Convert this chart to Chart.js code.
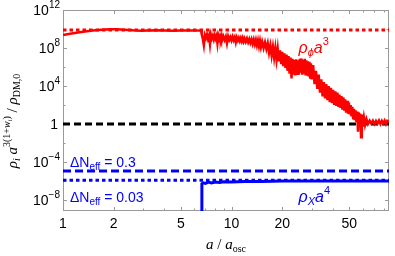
<!DOCTYPE html>
<html>
<head>
<meta charset="utf-8">
<script src="https://cdn.jsdelivr.net/npm/chart.js@4"></script>
<style>
html, body { margin: 0; padding: 0; background: #fff; }
#wrap { width: 395px; height: 256px; }
</style>
</head>
<body>
<div id="wrap"><canvas id="c"></canvas></div>
<script>
// a / a_osc and log10 of the rescaled density
const redA = [1.0, 1.1, 1.2, 1.35, 1.5, 1.7, 1.9, 2.1, 2.3, 2.6, 2.9, 3.2, 3.6, 4.0, 4.5, 5.0, 5.5, 6.0, 6.6,
  6.66, 6.75, 6.85, 6.95, 7.05, 7.15, 7.25, 7.35, 7.45, 7.55, 7.65, 7.75, 7.85, 7.95, 8.05, 8.15, 8.25, 8.35, 8.45, 8.55, 8.65, 8.75, 8.85, 8.95,
  9.1, 9.25, 9.4, 9.55, 9.7, 9.85, 10.0, 10.15, 10.3, 10.45, 10.6, 10.75, 10.9, 11.05, 11.2, 11.35, 11.5, 11.65, 11.8, 11.95,
  12.15, 12.35, 12.55, 12.75, 12.95, 13.15, 13.35, 13.55, 13.75, 13.95, 14.15, 14.35, 14.55, 14.75, 14.95,
  15.2, 15.5, 15.8, 16.1, 16.4, 16.7, 17.0, 17.3, 17.6, 17.9, 18.2, 18.5, 18.8, 19.1, 19.4, 19.7, 20.0, 20.3, 20.6, 20.9,
  21.2, 21.5, 21.8, 22.1, 22.4, 22.7, 23.0, 23.3, 23.6, 23.9, 24.2, 24.5, 24.8, 25.1, 25.4, 25.7, 26.0, 26.3, 26.6, 26.9,
  27.2, 27.5, 27.8, 28.1, 28.4, 28.7, 29.0, 29.3, 29.6, 29.9,
  30.5, 31.1, 31.7, 32.3, 32.9, 33.5, 34.1, 34.7, 35.3, 35.9, 36.5, 37.1, 37.7, 38.3, 38.9, 39.5, 40.1, 40.7, 41.3, 41.9,
  42.5, 43.1, 43.7, 44.3, 44.9, 45.5, 46.1, 46.7, 47.3, 47.9, 48.5, 49.1, 49.7, 50.3, 50.9, 51.5, 52.1, 52.7, 53.3, 53.9,
  54.5, 55.1, 55.7, 56.3, 56.9, 57.5, 58.1, 58.7, 59.3, 59.9,
  61, 62, 63.2, 64.5, 66, 67.5, 69, 70.5, 72, 73.5, 75, 76.5, 78, 79.5, 81, 82.5, 84, 86];
const redLog = [9.37, 9.5, 9.61, 9.73, 9.83, 9.92, 9.97, 9.97, 9.93, 9.86, 9.82, 9.84, 9.87, 9.85, 9.82, 9.85, 9.83, 9.84, 9.83,
  9.4, 9.0, 8.3, 9.35, 9.05, 9.42, 8.95, 9.3, 8.4, 9.38, 9.0, 9.3, 8.9, 9.33, 9.0, 9.28, 8.5, 9.3, 8.95, 9.25, 8.92, 9.3, 8.95, 9.22,
  8.85, 9.2, 8.5, 9.22, 8.85, 9.15, 8.8, 9.18, 8.82, 9.12, 8.6, 9.1, 8.8, 9.08, 8.75, 9.05, 8.72, 9.05, 8.7, 9.0,
  8.65, 9.0, 8.6, 8.95, 8.55, 8.92, 8.45, 8.88, 8.4, 8.85, 8.3, 8.8, 8.2, 8.75, 8.1,
  8.65, 8.0, 8.6, 7.9, 8.5, 7.5, 8.25, 7.2, 8.1, 7.0, 8.0, 6.8, 7.9, 6.6, 7.75, 6.3, 7.6, 6.1, 7.45, 5.9,
  7.3, 5.6, 7.15, 5.3, 7.0, 4.8, 6.85, 5.2, 6.75, 5.1, 6.8, 5.3, 6.7, 5.2, 6.85, 5.4, 6.9, 5.2, 6.75, 5.3,
  6.85, 5.1, 6.7, 5.2, 6.6, 5.0, 6.55, 4.9, 6.4, 4.7,
  6.2, 4.2, 5.6, 3.7, 5.2, 3.3, 4.7, 2.9, 4.4, 2.7, 4.2, 2.5, 4.0, 2.3, 3.8, 2.2, 3.6, 2.0, 3.45, 1.9,
  3.3, 1.8, 3.1, 1.7, 2.95, 1.5, 2.8, 1.4, 2.6, 1.2, 2.45, 1.1, 2.25, 1.0, 2.0, 0.8, 1.8, 0.6, 1.6, 0.4,
  1.45, 0.2, 1.3, -0.8, 1.2, -0.2, 1.1, -1.4, 1.0, -0.3,
  0.7, -0.1, 0.5, 0.0, 0.35, 0.05, 0.35, 0.0, 0.33, 0.05, 0.36, 0.0, 0.33, 0.05, 0.35, 0.0, 0.32, 0.2];
const blueA = [6.65, 6.67, 6.8, 7.0, 7.3, 7.6, 8.0, 8.5, 9.0, 10, 12, 15, 20, 30, 50, 86];
const blueLog = [-12, -6.3, -6.2, -6.25, -6.12, -6.2, -6.1, -6.15, -6.08, -6.1, -6.05, -6.05, -6.0, -6.0, -6.0, -6.0];

const phiLevel = 9.89;      // red dotted
const unityLevel = 0;       // black dashed
const neff03Level = -4.95;  // blue dashed
const neff003Level = -5.93; // blue dotted

const xTickMajor = [1, 2, 5, 10, 20, 50];
const xTickMinor = [3, 4, 6, 7, 8, 9, 30, 40, 60, 70, 80];
const yTickExp = [12, 8, 4, 0, -4, -8];
const yTickMinorExp = [10, 6, 2, -2, -6];

const xMin = 1, xMax = 86;
const yMin = Math.pow(10, -9.16), yMax = 1e12;

const RED = '#ff0000', BLUE = '#0000ff';

function pts(xs, logs) {
  return xs.map((a, i) => ({ x: a, y: Math.pow(10, logs[i]) }));
}
function hline(level) {
  return [{ x: xMin, y: Math.pow(10, level) }, { x: xMax, y: Math.pow(10, level) }];
}

// draws a run of text pieces with their own font and vertical shift
function rich(ctx, parts, x, y, align) {
  let w = 0;
  parts.forEach(p => { ctx.font = p.f; p.w = ctx.measureText(p.t).width; w += p.w; });
  let cx = align === 'right' ? x - w : align === 'center' ? x - w / 2 : x;
  ctx.textAlign = 'left';
  ctx.textBaseline = 'alphabetic';
  parts.forEach(p => { ctx.font = p.f; ctx.fillText(p.t, cx, y + (p.dy || 0)); cx += p.w; });
}

const SANS = '"Liberation Sans", Arial, sans-serif';
const SERIF = '"Liberation Serif", "Times New Roman", serif';

const framePlugin = {
  id: 'frame',
  beforeDatasetsDraw(chart) {
    const { ctx, chartArea: ca, scales: { x, y } } = chart;
    ctx.save();
    ctx.strokeStyle = '#999';
    ctx.lineWidth = 1;
    ctx.strokeRect(ca.left + 0.5, ca.top + 0.5, ca.right - ca.left - 1, ca.bottom - ca.top - 1);
    ctx.beginPath();
    const xt = (v, len) => {
      const px = Math.round(x.getPixelForValue(v)) + 0.5;
      ctx.moveTo(px, ca.bottom); ctx.lineTo(px, ca.bottom - len);
      ctx.moveTo(px, ca.top); ctx.lineTo(px, ca.top + len);
    };
    const yt = (e, len) => {
      const py = Math.round(y.getPixelForValue(Math.pow(10, e))) + 0.5;
      ctx.moveTo(ca.left, py); ctx.lineTo(ca.left + len, py);
      ctx.moveTo(ca.right, py); ctx.lineTo(ca.right - len, py);
    };
    xTickMajor.forEach(v => xt(v, 4));
    xTickMinor.forEach(v => xt(v, 2.5));
    yTickExp.forEach(e => yt(e, 4));
    yTickMinorExp.forEach(e => yt(e, 2.5));
    ctx.stroke();

    ctx.fillStyle = '#000';
    // y tick labels
    yTickExp.forEach(e => {
      const py = y.getPixelForValue(Math.pow(10, e)) + 5;
      if (e === 0) {
        rich(ctx, [{ t: '1', f: '14px ' + SANS }], 58, py, 'right');
      } else {
        rich(ctx, [{ t: '10', f: '14px ' + SANS },
                   { t: (e < 0 ? '\u2212' : '') + Math.abs(e), f: '10px ' + SANS, dy: -7 }], 60, py, 'right');
      }
    });
    // x tick labels
    xTickMajor.forEach(v => {
      rich(ctx, [{ t: String(v), f: '14px ' + SANS }], x.getPixelForValue(v), 228, 'center');
    });
    // x title
    rich(ctx, [
      { t: 'a', f: 'italic 15px ' + SERIF },
      { t: ' / ', f: '15px ' + SERIF },
      { t: 'a', f: 'italic 15px ' + SERIF },
      { t: 'osc', f: '10px ' + SERIF, dy: 3 }
    ], (ca.left + ca.right) / 2, 249, 'center');
    // y title
    ctx.translate(17, 121);
    ctx.rotate(-Math.PI / 2);
    rich(ctx, [
      { t: '\u03c1', f: 'italic 15px ' + SERIF },
      { t: 'i', f: 'italic 10px ' + SERIF, dy: 3 },
      { t: ' a', f: 'italic 15px ' + SERIF },
      { t: '3(1+', f: '10px ' + SERIF, dy: -7 },
      { t: 'w', f: 'italic 10px ' + SERIF, dy: -7 },
      { t: 'i', f: 'italic 7px ' + SERIF, dy: -5 },
      { t: ')', f: '10px ' + SERIF, dy: -7 },
      { t: ' / ', f: '15px ' + SERIF },
      { t: '\u03c1', f: 'italic 15px ' + SERIF },
      { t: 'DM,0', f: '10px ' + SERIF, dy: 3 }
    ], 0, 0, 'center');
    ctx.restore();
  },
  afterDatasetsDraw(chart) {
    const { ctx, scales: { x, y } } = chart;
    ctx.save();
    ctx.fillStyle = RED;
    rich(ctx, [
      { t: '\u03c1', f: 'italic 16px ' + SANS },
      { t: '\u03d5', f: 'italic 11px ' + SANS, dy: 3 },
      { t: 'a', f: 'italic 16px ' + SANS },
      { t: '3', f: '11px ' + SANS, dy: -8 }
    ], x.getPixelForValue(25), y.getPixelForValue(Math.pow(10, 7.47)), 'left');
    ctx.fillStyle = BLUE;
    rich(ctx, [
      { t: '\u03c1', f: 'italic 16px ' + SANS },
      { t: 'X', f: 'italic 11px ' + SANS, dy: 3 },
      { t: 'a', f: 'italic 16px ' + SANS },
      { t: '4', f: '11px ' + SANS, dy: -8 }
    ], x.getPixelForValue(25), y.getPixelForValue(Math.pow(10, -8.21)), 'left');
    rich(ctx, [
      { t: '\u0394N', f: '14px ' + SANS },
      { t: 'eff', f: '10px ' + SANS, dy: 3 },
      { t: ' = 0.3', f: '14px ' + SANS }
    ], x.getPixelForValue(1.1), y.getPixelForValue(Math.pow(10, -4.53)), 'left');
    rich(ctx, [
      { t: '\u0394N', f: '14px ' + SANS },
      { t: 'eff', f: '10px ' + SANS, dy: 3 },
      { t: ' = 0.03', f: '14px ' + SANS }
    ], x.getPixelForValue(1.1), y.getPixelForValue(Math.pow(10, -8.25)), 'left');
    ctx.restore();
  }
};

const chart = new Chart(document.getElementById('c'), {
  type: 'scatter',
  data: {
    datasets: [
      { data: pts(redA, redLog), borderColor: RED, borderWidth: 2.5 },
      { data: pts(blueA, blueLog), borderColor: BLUE, borderWidth: 3 },
      { data: hline(phiLevel), borderColor: RED, borderWidth: 3, borderDash: [3.5, 3] },
      { data: hline(unityLevel), borderColor: '#000', borderWidth: 3, borderDash: [7, 4] },
      { data: hline(neff03Level), borderColor: BLUE, borderWidth: 3, borderDash: [8, 4] },
      { data: hline(neff003Level), borderColor: BLUE, borderWidth: 3, borderDash: [3.5, 3] }
    ].map(d => Object.assign(d, { showLine: true, pointRadius: 0, fill: false, tension: 0 }))
  },
  options: {
    responsive: true,
    maintainAspectRatio: false,
    animation: false,
    events: [],
    layout: { padding: { left: 63, right: 6, top: 10, bottom: 45 } },
    plugins: { legend: { display: false }, tooltip: { enabled: false } },
    scales: {
      x: { type: 'logarithmic', min: xMin, max: xMax, display: false },
      y: { type: 'logarithmic', min: yMin, max: yMax, display: false }
    }
  },
  plugins: [framePlugin]
});
</script>
</body>
</html>
